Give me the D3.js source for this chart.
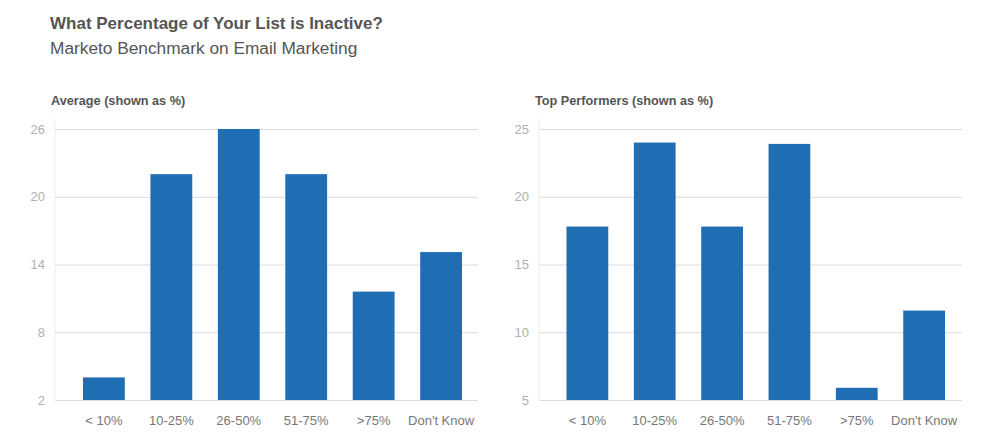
<!DOCTYPE html>
<html><head><meta charset="utf-8">
<script src="https://cdn.jsdelivr.net/npm/d3@7"></script>
<style>
body{margin:0;background:#fff;}
svg{display:block;font-family:"Liberation Sans",Arial,sans-serif;}
</style></head>
<body>
<svg id="c" width="1001" height="448"></svg>
<script>
const categories = ["< 10%", "10-25%", "26-50%", "51-75%", ">75%", "Don't Know"];
const averageValues = [4, 22, 26, 22, 11.6, 15.1];
const topValues = [17.8, 24, 17.8, 23.9, 5.9, 11.6];
const averageTicks = [2, 8, 14, 20, 26];
const topTicks = [5, 10, 15, 20, 25];

const svg = d3.select("#c");
const barColor = "#1f6db3";

svg.append("text").attr("x", 50).attr("y", 29)
  .attr("font-size", 17).attr("font-weight", "bold").attr("fill", "#555")
  .text("What Percentage of Your List is Inactive?");
svg.append("text").attr("x", 50).attr("y", 54)
  .attr("font-size", 17.3).attr("fill", "#555")
  .text("Marketo Benchmark on Email Marketing");

function panel(opts) {
  const {title, titleX, axisX, gridRight, bandLeft, bandRight, values, ticks} = opts;
  const yTop = 129, yBot = 400;
  const g = svg.append("g");
  g.append("text").attr("x", titleX).attr("y", 105)
    .attr("font-size", 12.7).attr("font-weight", "bold").attr("fill", "#555")
    .text(title);

  const x = d3.scaleBand().domain(categories).range([bandLeft, bandRight]).paddingInner(0.38).paddingOuter(0);
  const y = d3.scaleLinear().domain([ticks[0], ticks[ticks.length - 1]]).range([yBot, yTop]);

  g.append("line").attr("x1", axisX).attr("x2", axisX).attr("y1", 118).attr("y2", yBot)
    .attr("stroke", "#eeeeee").attr("stroke-width", 1);

  const ya = g.append("g").attr("transform", `translate(${axisX},0)`)
    .call(d3.axisLeft(y).tickValues(ticks).tickSize(-(gridRight - axisX)).tickPadding(10).tickFormat(d3.format("d")));
  ya.select(".domain").remove();
  ya.selectAll("line").attr("stroke", "#dcdcdc");
  ya.selectAll("text").attr("fill", "#b0b0b0").attr("font-size", 13).attr("font-family", "Liberation Sans, Arial, sans-serif");

  g.selectAll("rect.bar").data(values).enter().append("rect")
    .attr("class", "bar")
    .attr("x", (d, i) => x(categories[i]))
    .attr("width", x.bandwidth())
    .attr("y", d => y(d))
    .attr("height", d => yBot - y(d))
    .attr("fill", barColor);

  const xa = g.append("g").attr("transform", `translate(0,${yBot})`)
    .call(d3.axisBottom(x).tickSize(0).tickPadding(16));
  xa.select(".domain").remove();
  xa.selectAll("text").attr("fill", "#777").attr("font-size", 13).attr("font-family", "Liberation Sans, Arial, sans-serif");
}

panel({title: "Average (shown as %)", titleX: 51, axisX: 55, gridRight: 478, bandLeft: 83, bandRight: 462, values: averageValues, ticks: averageTicks});
panel({title: "Top Performers (shown as %)", titleX: 535, axisX: 539, gridRight: 962, bandLeft: 566.5, bandRight: 945, values: topValues, ticks: topTicks});
</script>
</body></html>
